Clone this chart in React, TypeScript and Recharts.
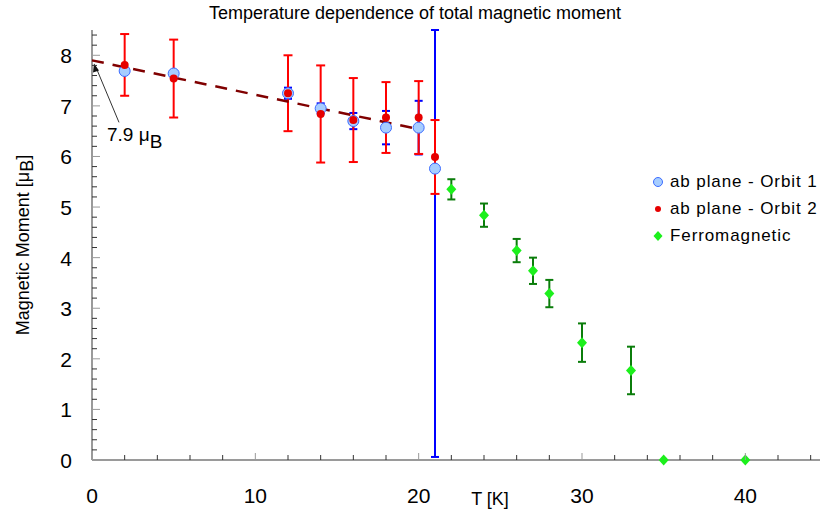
import React from 'react';
import { ScatterChart, Scatter, XAxis, YAxis, ErrorBar, Legend } from 'recharts';

const FONT = '"Liberation Sans", Arial, sans-serif';

// ab plane - Orbit 1
const orbit1T = [2, 5, 12, 14, 16, 18, 20, 21];
const orbit1M = [7.69, 7.64, 7.25, 6.95, 6.7, 6.57, 6.57, 5.76];
const orbit1Err = [[0.05, 0.05], [0.05, 0.05], [0.11, 0.11], [0.1, 0.1], [0.16, 0.16], [0.33, 0.33], [0.53, 0.53], [5.7, 2.74]];

// ab plane - Orbit 2
const orbit2T = [2, 5, 12, 14, 16, 18, 20, 21];
const orbit2M = [7.81, 7.54, 7.25, 6.84, 6.72, 6.77, 6.77, 5.99];
const orbit2Err = [0.61, 0.77, 0.75, 0.96, 0.83, 0.7, 0.72, 0.73];

// Ferromagnetic
const ferroT = [22, 24, 26, 27, 28, 30, 33, 35, 40];
const ferroM = [5.35, 4.84, 4.14, 3.74, 3.29, 2.32, 1.77, 0, 0];
const ferroErr = [0.2, 0.23, 0.23, 0.26, 0.27, 0.38, 0.47, null, null];

// dashed linear fit
const fitT = [0, 20];
const fitM = [7.9, 6.54];

// annotation anchor
const noteT = [0];
const noteM = [7.86];

const legendNames = ['ab plane - Orbit 1', 'ab plane - Orbit 2', 'Ferromagnetic'];

const xMajor = [0, 10, 20, 30, 40];
const yMajor = [0, 1, 2, 3, 4, 5, 6, 7, 8];
const xMinor: number[] = [];
for (let v = 0; v <= 44; v += 2) xMinor.push(v);
const yMinor: number[] = [];
for (let k = 0; k <= 42; k++) yMinor.push(Math.round(k * 2) / 10);

const orbit1 = orbit1T.map((t, i) => ({ t, m: orbit1M[i], err: orbit1Err[i] }));
const orbit2 = orbit2T.map((t, i) => ({ t, m: orbit2M[i], err: orbit2Err[i] }));
const ferro = ferroT.map((t, i) => ({ t, m: ferroM[i], err: ferroErr[i] }));
const fit = fitT.map((t, i) => ({ t, m: fitM[i] }));
const note = noteT.map((t, i) => ({ t, m: noteM[i] }));

const XTick = ({ x, y, payload }: any) => {
  const v = payload.value;
  const major = xMajor.includes(v);
  return (
    <g>
      <line x1={x} x2={x} y1={y} y2={y - (major ? 7 : 5)} stroke={major ? '#999' : '#333'} strokeWidth={1} />
      {major && (
        <text x={x} y={y + 43} textAnchor="middle" fontSize={21} fontFamily={FONT} fill="#000">{v}</text>
      )}
    </g>
  );
};

const YTick = ({ x, y, payload }: any) => {
  const v = payload.value;
  const major = yMajor.some(m => Math.abs(m - v) < 1e-6);
  return (
    <g>
      <line x1={x} x2={x + (major ? 8 : 5)} y1={y} y2={y} stroke={major ? '#999' : '#333'} strokeWidth={1} />
      {major && (
        <text x={x - 20} y={y + 8} textAnchor="end" fontSize={21} fontFamily={FONT} fill="#000">{Math.round(v)}</text>
      )}
    </g>
  );
};

const YLabel = ({ viewBox }: any) => {
  const cy = viewBox.y + viewBox.height / 2;
  return (
    <text transform={`translate(29, ${cy}) rotate(-90)`} textAnchor="middle" fontSize={18} fontFamily={FONT} fill="#000">
      Magnetic Moment [μ<tspan dy={4}>B</tspan><tspan dy={-4}>]</tspan>
    </text>
  );
};

const XLabel = ({ viewBox }: any) => (
  <text x={490} y={viewBox.y + 45} textAnchor="middle" fontSize={18} fontFamily={FONT} fill="#000">
    T [K]
  </text>
);

const BlueDot = ({ cx, cy }: any) => <circle cx={cx} cy={cy} r={5.5} fill="#a6cdff" stroke="#3c6cff" strokeWidth={1} />;
const RedDot = ({ cx, cy }: any) => <circle cx={cx} cy={cy} r={4} fill="#e60000" />;
const Diamond = ({ cx, cy }: any) => (
  <polygon points={`${cx},${cy - 5.5} ${cx + 5},${cy} ${cx},${cy + 5.5} ${cx - 5},${cy}`} fill="#1cf01c" />
);

const Note = ({ cx, cy }: any) => (
  <g>
    <line x1={cx + 27} y1={cy + 60} x2={cx + 4} y2={cy + 5} stroke="#333" strokeWidth={1} />
    <polygon points={`${cx + 2},${cy + 1} ${cx + 1},${cy + 10} ${cx + 7},${cy + 8}`} fill="#111" />
    <text x={cx + 15} y={cy + 79} fontSize={19} fontFamily={FONT} fill="#000">
      7.9 μ<tspan dy={7}>B</tspan>
    </text>
  </g>
);

const legendIcons: Record<string, React.ReactNode> = {
  'ab plane - Orbit 1': <circle cx={8} cy={8} r={4.5} fill="#a6cdff" stroke="#3c6cff" strokeWidth={1} />,
  'ab plane - Orbit 2': <circle cx={8} cy={8} r={3} fill="#e60000" />,
  'Ferromagnetic': <polygon points="8,3 12.5,8 8,13 3.5,8" fill="#1cf01c" />,
};

const LegendBox = () => (
  <div>
    {legendNames.map(name => (
      <div key={name} style={{ display: 'flex', alignItems: 'center', height: 27 }}>
        <svg width={16} height={16} style={{ marginRight: 4 }}>{legendIcons[name]}</svg>
        <span style={{ fontSize: 17, letterSpacing: 0.9, fontFamily: FONT, color: '#000', whiteSpace: 'nowrap' }}>{name}</span>
      </div>
    ))}
  </div>
);

export default function App() {
  return (
    <div style={{ position: 'absolute', left: 0, top: 0, width: 820, height: 510, overflow: 'hidden', background: '#fff' }}>
      <ScatterChart width={830} height={510} margin={{ top: 30, right: 3, bottom: 0, left: 0 }}>
        <XAxis
          type="number"
          dataKey="t"
          domain={[0, 45]}
          ticks={xMinor}
          interval={0}
          height={50}
          tickSize={0}
          tickMargin={0}
          tickLine={false}
          axisLine={{ stroke: '#9a9a9a', strokeWidth: 2 }}
          tick={(p: any) => <XTick {...p} />}
          label={<XLabel />}
        />
        <YAxis
          type="number"
          dataKey="m"
          domain={[0, 8.5]}
          ticks={yMinor}
          interval={0}
          width={92}
          tickSize={0}
          tickMargin={0}
          tickLine={false}
          axisLine={{ stroke: '#9a9a9a', strokeWidth: 2 }}
          tick={(p: any) => <YTick {...p} />}
          label={<YLabel />}
        />
        <Legend
          layout="vertical"
          align="center"
          verticalAlign="middle"
          content={<LegendBox />}
          wrapperStyle={{ left: 650, top: 168, width: 180 }}
        />
        <Scatter
          name="fit"
          data={fit}
          legendType="none"
          line={{ stroke: '#800000', strokeWidth: 2.5, strokeDasharray: '12 9' }}
          shape={() => <g />}
          isAnimationActive={false}
        />
        <Scatter name="ab plane - Orbit 1" data={orbit1} shape={(p: any) => <BlueDot {...p} />} isAnimationActive={false}>
          <ErrorBar dataKey="err" direction="y" width={4} stroke="#0000ff" strokeWidth={2} />
        </Scatter>
        <Scatter name="ab plane - Orbit 2" data={orbit2} shape={(p: any) => <RedDot {...p} />} isAnimationActive={false}>
          <ErrorBar dataKey="err" direction="y" width={4.5} stroke="#ff0000" strokeWidth={2} />
        </Scatter>
        <Scatter name="Ferromagnetic" data={ferro} shape={(p: any) => <Diamond {...p} />} isAnimationActive={false}>
          <ErrorBar dataKey="err" direction="y" width={4} stroke="#0b7d0b" strokeWidth={2} />
        </Scatter>
        <Scatter name="note" data={note} legendType="none" shape={(p: any) => <Note {...p} />} isAnimationActive={false} />
      </ScatterChart>
      <div style={{ position: 'absolute', left: 0, top: 3, width: 830, textAlign: 'center', fontSize: 18, fontFamily: FONT, color: '#000' }}>
        Temperature dependence of total magnetic moment
      </div>
    </div>
  );
}
